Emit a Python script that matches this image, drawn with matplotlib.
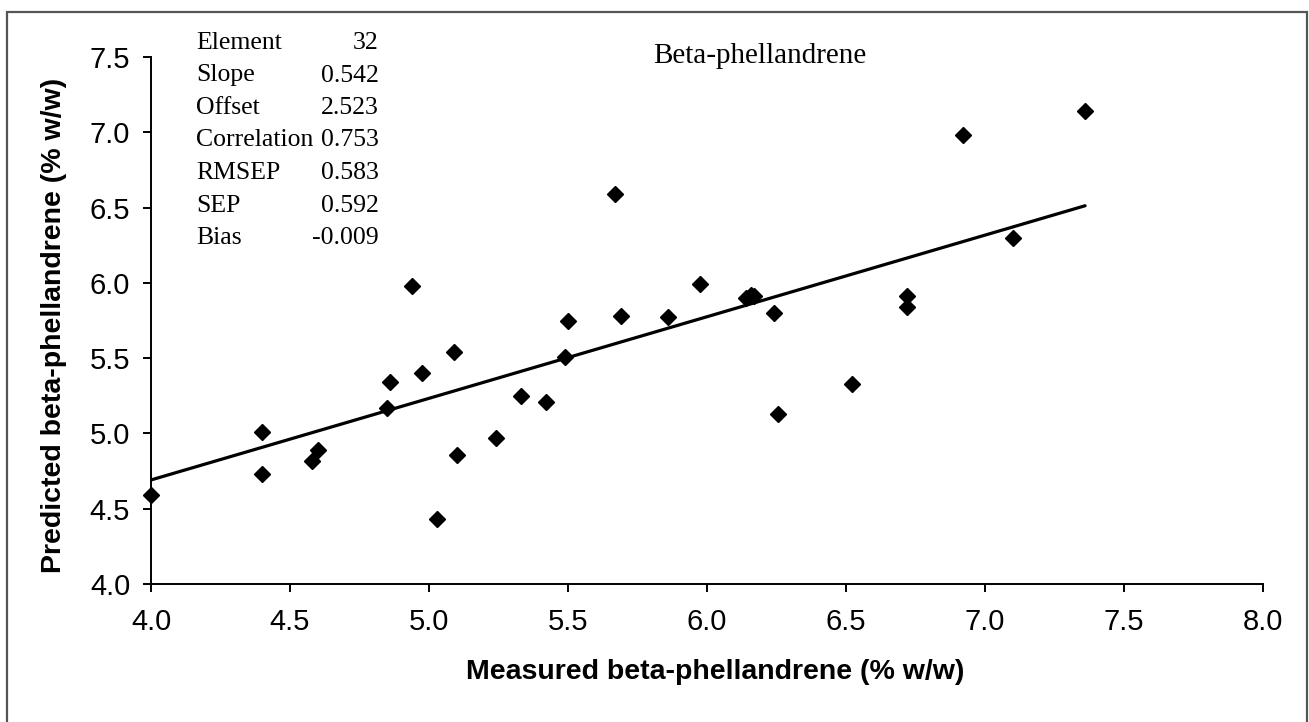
import matplotlib
matplotlib.use('Agg')
import matplotlib.pyplot as plt
from matplotlib.patches import Rectangle
import numpy as np

# measured vs predicted values
measured = [4.00, 4.40, 4.40, 4.58, 4.60, 4.85, 4.86, 4.94, 4.975, 5.03, 5.09,
            5.10, 5.24, 5.33, 5.42, 5.49, 5.50, 5.67, 5.69, 5.86, 5.975, 6.14,
            6.16, 6.17, 6.24, 6.255, 6.52, 6.72, 6.72, 6.92, 7.10, 7.36]
predicted = [4.59, 5.01, 4.73, 4.82, 4.89, 5.17, 5.34, 5.98, 5.40, 4.43, 5.54,
             4.86, 4.97, 5.25, 5.21, 5.51, 5.75, 6.59, 5.78, 5.77, 5.99, 5.90,
             5.92, 5.91, 5.80, 5.13, 5.33, 5.91, 5.84, 6.98, 6.30, 7.14]

slope = 0.542
offset = 2.523
fit_range = [4.0, 7.36]

stat_names = ["Element", "Slope", "Offset", "Correlation", "RMSEP", "SEP", "Bias"]
stat_values = ["32", "0.542", "2.523", "0.753", "0.583", "0.592", "-0.009"]

xticks = [4.0, 4.5, 5.0, 5.5, 6.0, 6.5, 7.0, 7.5, 8.0]
yticks = [4.0, 4.5, 5.0, 5.5, 6.0, 6.5, 7.0, 7.5]

W, H = 1309, 722
fig = plt.figure(figsize=(W / 100, H / 100), dpi=100)
ax = fig.add_axes([151 / W, 1 - 584 / H, (1263 - 151) / W, (584 - 57) / H])

ax.plot(measured, predicted, 'D', color='black', markersize=8.5, clip_on=False, zorder=3)
fx = np.array(fit_range)
ax.plot(fx, slope * fx + offset, color='black', linewidth=2.3, solid_capstyle='round')

ax.set_xlim(4.0, 8.0)
ax.set_ylim(4.0, 7.5)
ax.set_xticks(xticks)
ax.set_yticks(yticks)
ax.set_xticklabels(["%.1f" % v for v in xticks])
ax.set_yticklabels(["%.1f" % v for v in yticks])
for s in ['top', 'right']:
    ax.spines[s].set_visible(False)
for s in ['left', 'bottom']:
    ax.spines[s].set_linewidth(1.4)
ax.tick_params(direction='out', length=6, width=1.4, labelsize=21)
ax.tick_params(axis='x', pad=11)
ax.tick_params(axis='y', pad=9)
for lab in ax.get_xticklabels() + ax.get_yticklabels():
    lab.set_family('Liberation Sans')

fig.text(715 / W, 1 - 672 / H, "Measured beta-phellandrene (% w/w)", ha='center', va='center',
         fontsize=20.5, fontweight='bold', family='Liberation Sans')
fig.text(54 / W, 1 - 325 / H, "Predicted beta-phellandrene (% w/w)", ha='center', va='center',
         rotation=90, fontsize=20.5, fontweight='bold', family='Liberation Sans')

fig.text(760 / W, 1 - 56 / H, "Beta-phellandrene", ha='center', va='center',
         fontsize=21, family='Liberation Serif')

for i, (n, v) in enumerate(zip(stat_names, stat_values)):
    yy = 1 - (43 + i * 32.5) / H
    fig.text(196 / W, yy, n, ha='left', va='center', fontsize=18.5, family='Liberation Serif')
    fig.text(379 / W, yy, v, ha='right', va='center', fontsize=18.5, family='Liberation Serif')

# outer frame
fig.patches.append(Rectangle((7 / W, -0.05), (1307 - 7) / W, 1.05 - 12 / H, transform=fig.transFigure,
                             fill=False, edgecolor='#555555', linewidth=1.6))

fig.savefig('out.png', dpi=100, facecolor='white')
